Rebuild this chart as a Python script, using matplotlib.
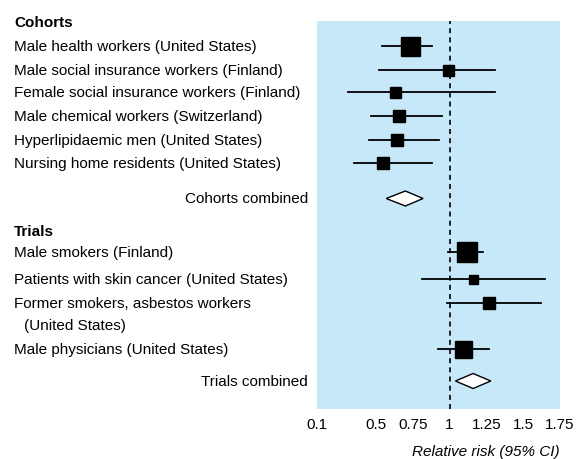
import matplotlib
matplotlib.use('Agg')
import matplotlib.pyplot as plt
from matplotlib.patches import Polygon
from matplotlib.transforms import blended_transform_factory

plt.rcParams['font.family'] = ['Liberation Sans Narrow', 'Liberation Sans', 'DejaVu Sans']

# data
cohort_names = ['Male health workers (United States)',
                'Male social insurance workers (Finland)',
                'Female social insurance workers (Finland)',
                'Male chemical workers (Switzerland)',
                'Hyperlipidaemic men (United States)',
                'Nursing home residents (United States)']
cohort_rr = [0.73, 0.99, 0.63, 0.66, 0.64, 0.55]
cohort_lo = [0.54, 0.52, 0.31, 0.47, 0.45, 0.35]
cohort_hi = [0.88, 1.31, 1.31, 0.95, 0.93, 0.88]
cohort_weight = [19, 11, 11, 12, 12, 12]
cohort_comb = (0.70, 0.57, 0.82)

trial_names = ['Male smokers (Finland)',
               'Patients with skin cancer (United States)',
               'Former smokers, asbestos workers',
               'Male physicians (United States)']
trial_rr = [1.12, 1.16, 1.27, 1.09]
trial_lo = [0.99, 0.81, 0.98, 0.92]
trial_hi = [1.23, 1.65, 1.62, 1.27]
trial_weight = [20, 9, 12, 17]
trial_comb = (1.16, 1.04, 1.28)

tick_vals = [0.1, 0.5, 0.75, 1, 1.25, 1.5, 1.75]
tick_labels = ['0.1', '0.5', '0.75', '1', '1.25', '1.5', '1.75']

# layout (row positions in pixel units from top)
cohort_y = [47, 71, 93, 117, 141, 164]
cohort_comb_y = 199.5
trial_y = [253, 280, 304, 350]
trial_comb_y = 382

fig = plt.figure(figsize=(5.76, 4.6), dpi=100)
ax = fig.add_axes([317 / 576, 1 - 410 / 460, 243 / 576, 388 / 460])
ax.set_facecolor('#c6e8f8')
ax.set_xlim(0.1, 1.75)
ax.set_ylim(410, 22)
for s in ax.spines.values():
    s.set_visible(False)

ax.axvline(1, color='black', lw=1.2, ls=(0, (3, 2.5)), zorder=1)

def draw_rows(ys, rr, lo, hi, w):
    for y, r, l, h, s in zip(ys, rr, lo, hi, w):
        ax.plot([l, h], [y, y], color='black', lw=1.3, zorder=2)
        ax.plot(r, y, marker='s', color='black', markersize=s * 0.72, zorder=3)

def draw_diamond(y, comb, half_h=7.5):
    est, lo, hi = comb
    ax.add_patch(Polygon([(lo, y), (est, y - half_h), (hi, y), (est, y + half_h)],
                         closed=True, facecolor='white', edgecolor='black', lw=1, zorder=3))

draw_rows(cohort_y, cohort_rr, cohort_lo, cohort_hi, cohort_weight)
draw_rows(trial_y, trial_rr, trial_lo, trial_hi, trial_weight)
draw_diamond(cohort_comb_y, cohort_comb)
draw_diamond(trial_comb_y, trial_comb)

# ticks
ax.set_xticks(tick_vals)
ax.set_xticklabels(tick_labels, fontsize=11)
ax.set_xticks([v for v in tick_vals if v not in (0.1, 1, 1.75)], minor=True)
ax.tick_params(axis='x', which='major', length=0, pad=6)
ax.tick_params(axis='x', which='minor', direction='in', length=6, width=1.3, color='white')
ax.set_yticks([])

# labels
trans = blended_transform_factory(fig.transFigure, ax.transData)
lx = 14 / 576
rx = 308 / 576
fs = 11
fig.text(lx, 23, 'Cohorts', transform=trans, fontsize=fs, fontweight='bold', va='center')
for name, y in zip(cohort_names, cohort_y):
    fig.text(lx, y, name, transform=trans, fontsize=fs, va='center')
fig.text(rx, cohort_comb_y, 'Cohorts combined', transform=trans, fontsize=fs, va='center', ha='right')
fig.text(lx, 232, 'Trials', transform=trans, fontsize=fs, fontweight='bold', va='center')
for name, y in zip(trial_names, trial_y):
    fig.text(lx, y, name, transform=trans, fontsize=fs, va='center')
fig.text(24 / 576, 326, '(United States)', transform=trans, fontsize=fs, va='center')
fig.text(rx, trial_comb_y, 'Trials combined', transform=trans, fontsize=fs, va='center', ha='right')

fig.text(560 / 576, 1 - 452 / 460, 'Relative risk (95% CI)', fontsize=fs, style='italic',
         ha='right', va='center')

fig.savefig('out.png', dpi=100)
